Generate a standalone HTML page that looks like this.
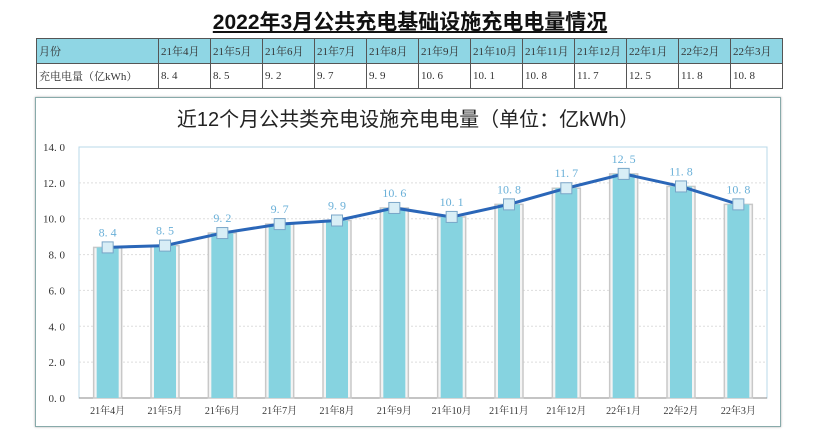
<!DOCTYPE html>
<html><head><meta charset="utf-8"><style>
body{margin:0;background:#fff;font-family:"Liberation Serif","Noto Serif CJK SC",serif;}
#root{position:relative;width:820px;height:430px;overflow:hidden;background:#fff}
.title{position:absolute;left:0;width:820px;top:6px;text-align:center;font:bold 21px "Liberation Sans","Noto Sans CJK SC",sans-serif;text-decoration:underline;color:#111}
table{position:absolute;left:36px;top:38px;border-collapse:collapse;font-size:11px;color:#333}
td{border:1px solid #555;height:24px;padding:0 2px;width:47px}
td:first-child{width:117px}
tr.h td{background:#8fd6e4}
.box{position:absolute;left:35px;top:97px;width:744px;height:328px;border:1px solid #8aa;box-shadow:0 0 2px #aaa}
.ct{position:absolute;left:35px;width:746px;top:103px;text-align:center;font:20px "Liberation Sans","Noto Sans CJK SC",sans-serif;color:#222}
</style></head><body><div id="root">
<div class="title">2022年3月公共充电基础设施充电电量情况</div>
<table>
<tr class="h" id="hr"><td>月份</td></tr>
<tr id="vr"><td>充电电量（亿kWh）</td></tr>
</table>
<div class="box"></div>
<div class="ct">近12个月公共类充电设施充电电量（单位：亿kWh）</div>
<svg id="svg" width="820" height="430" style="position:absolute;left:0;top:0"></svg>
</div>
<script>
const categories=["21年4月","21年5月","21年6月","21年7月","21年8月","21年9月","21年10月","21年11月","21年12月","22年1月","22年2月","22年3月"];
const values=[8.4,8.5,9.2,9.7,9.9,10.6,10.1,10.8,11.7,12.5,11.8,10.8];
const yTicks=[0,2,4,6,8,10,12,14];
const X0=79,X1=767,Y0=398,Y1=147,YMAX=14;
const y=v=>Y0-(v/YMAX)*(Y0-Y1);
const bw=(X1-X0)/categories.length;
const x=i=>X0+bw*(i+0.5);
const hr=document.getElementById('hr'),vr=document.getElementById('vr');
categories.forEach((c,i)=>{
 const a=document.createElement('td');a.textContent=c;
 
 
 hr.appendChild(a);
 const b=document.createElement('td');b.textContent=values[i].toFixed(1).replace('.','. ');
 
 
 vr.appendChild(b);
});
const svg=document.getElementById('svg');const NS='http://www.w3.org/2000/svg';
function mk(t,a,txt){const e=document.createElementNS(NS,t);for(const k in a)e.setAttribute(k,a[k]);if(txt!=null)e.textContent=txt;svg.appendChild(e);return e;}
let e=mk('rect',{x:X0,y:Y1,width:X1-X0,height:Y0-Y1,fill:'none',stroke:'#b8d8e8'});


yTicks.forEach(t=>{
 if(t>0&&t<YMAX){e=mk('line',{x1:X0,x2:X1,y1:y(t),y2:y(t),stroke:'#ddd','stroke-dasharray':'2,2'});
 
 }
 e=mk('text',{x:X0-14,y:y(t)+4,'text-anchor':'end','font-size':11,fill:'#333'},t.toFixed(1).replace('.','. '));
 
 
});
e=mk('line',{x1:X0,x2:X1,y1:Y0,y2:Y0,stroke:'#888'});


categories.forEach((c,i)=>{
 const cx=x(i),top=y(values[i]);
 e=mk('rect',{x:cx-14,y:top,width:28,height:Y0-top,fill:'#f4f4f4',stroke:'#c8c8c8','stroke-width':1.5});
 
 
 e=mk('rect',{x:cx-11,y:top,width:22,height:Y0-top,fill:'#86d3e0'});
 
 
 e=mk('text',{x:cx,y:Y0+16,'text-anchor':'middle','font-size':10,fill:'#333'},c);
 
 
});
e=mk('polyline',{points:values.map((v,i)=>x(i)+','+y(v)).join(' '),fill:'none',stroke:'#2a66b8','stroke-width':3});


values.forEach((v,i)=>{
 e=mk('rect',{x:x(i)-5.5,y:y(v)-5.5,width:11,height:11,fill:'#d8eef6',stroke:'#7aa6c8'});
 
 
 e=mk('text',{x:x(i),y:y(v)-11,'text-anchor':'middle','font-size':12,fill:'#6ab0d8'},v.toFixed(1).replace('.','. '));
 
 
});
</script></body></html>
